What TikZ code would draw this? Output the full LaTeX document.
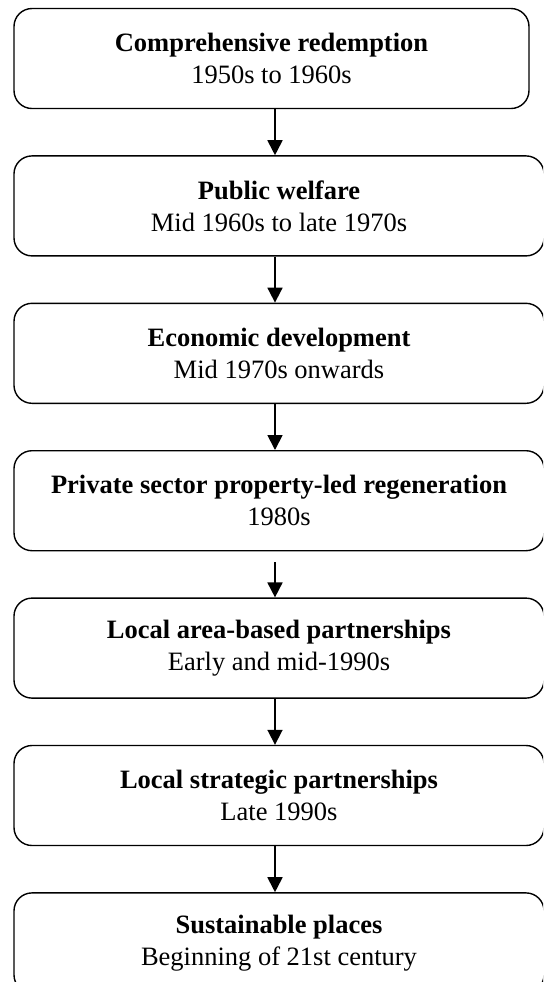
\documentclass[tikz,border=0pt]{standalone}
\usepackage{fontspec}
\setmainfont{Liberation Serif}
\usetikzlibrary{positioning,arrows.meta}

\begin{document}
\begin{tikzpicture}
    [
      x=0.5pt,
      y=-0.5pt,
      stage/.style=
      {
        align=center,
        inner sep=0pt,
        minimum height=50pt,
        minimum width=265pt,
        rounded corners=9pt,
        line width=0.7pt,
        fill=white,
        text=black,
        draw,
        font=\fontsize{13.25}{16}\selectfont
      },
      first/.style=
      {
        minimum width=257.5pt
      },
      arr/.style=
      {
        line width=0.9pt,
        -{Triangle[width=7.5pt,length=7.5pt]}
      }
    ]
    \useasboundingbox (0,0) rectangle (543,982);
    \clip (0,0) rectangle (543,982);
    \coordinate (ArrowLine) at (275,0);
    \node[stage, first](Redemption) at (271.5,58.5)
    {
      \textbf{Comprehensive redemption}\\1950s to 1960s
    };
    \node[stage, below=23pt of Redemption, xshift=3.75pt](Welfare)
    {
      \textbf{Public welfare}\\Mid 1960s to late 1970s
    };
    \node[stage, below=23pt of Welfare](Economic)
    {
      \textbf{Economic development}\\Mid 1970s onwards
    };
    \node[stage, below=23pt of Economic](Property)
    {
      \textbf{Private sector property-led regeneration}\\1980s
    };
    \node[stage, below=23pt of Property](AreaBased)
    {
      \textbf{Local area-based partnerships}\\Early and mid-1990s
    };
    \node[stage, below=23pt of AreaBased](Strategic)
    {
      \textbf{Local strategic partnerships}\\Late 1990s
    };
    \node[stage, below=23pt of Strategic](Sustainable)
    {
      \textbf{Sustainable places}\\Beginning of 21st century
    };
    %arrows between the stages
    \draw[arr] (Redemption.south -| ArrowLine) -- (Welfare.north -| ArrowLine);
    \draw[arr] (Welfare.south -| ArrowLine) -- (Economic.north -| ArrowLine);
    \draw[arr] (Economic.south -| ArrowLine) -- (Property.north -| ArrowLine);
    \draw[arr, shorten <=5.5pt] (Property.south -| ArrowLine) -- (AreaBased.north -| ArrowLine);
    \draw[arr] (AreaBased.south -| ArrowLine) -- (Strategic.north -| ArrowLine);
    \draw[arr] (Strategic.south -| ArrowLine) -- (Sustainable.north -| ArrowLine);
  \end{tikzpicture}
\end{document}
